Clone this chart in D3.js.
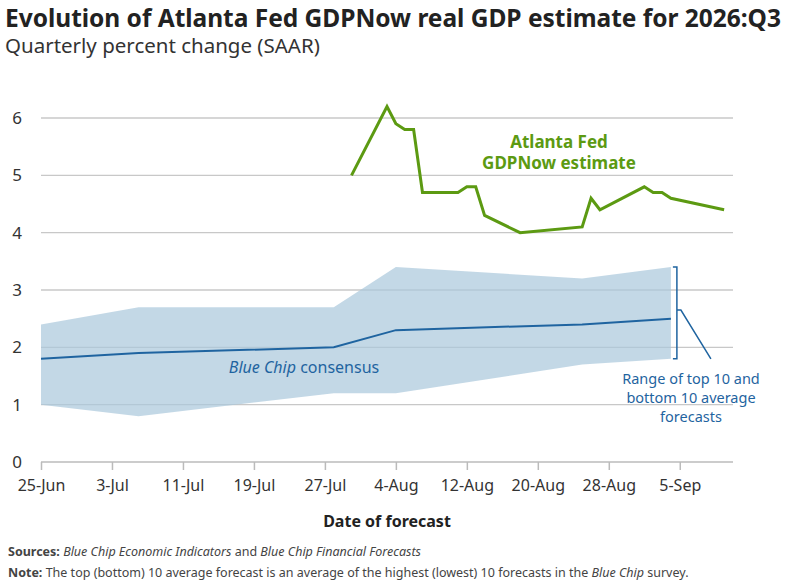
<!DOCTYPE html>
<html><head><meta charset="utf-8">
<script src="https://cdn.jsdelivr.net/npm/d3@7"></script>
<style>body{margin:0;background:#fff;font-family:"Noto Sans",sans-serif}</style>
</head><body>
<div class="canvas"></div>
<script>
// blue chip consensus and top/bottom 10 range
const bandDates = ['2026-06-25','2026-07-06','2026-07-28','2026-08-04','2026-08-25','2026-09-04'];
const bandTop = [2.4, 2.7, 2.7, 3.4, 3.2, 3.4];
const bandBottom = [1.0, 0.8, 1.2, 1.2, 1.7, 1.8];
const consensus = [1.8, 1.9, 2.0, 2.3, 2.4, 2.5];
// gdpnow estimates
const nowDates = ['2026-07-30','2026-08-03','2026-08-04','2026-08-05','2026-08-06','2026-08-07','2026-08-11','2026-08-12','2026-08-13','2026-08-14','2026-08-18','2026-08-25','2026-08-26','2026-08-27','2026-09-01','2026-09-02','2026-09-03','2026-09-04','2026-09-10'];
const nowValues = [5.0, 6.2, 5.9, 5.8, 5.8, 4.7, 4.7, 4.8, 4.8, 4.3, 4.0, 4.1, 4.6, 4.4, 4.8, 4.7, 4.7, 4.6, 4.4];
const tickLabels = ['25-Jun','3-Jul','11-Jul','19-Jul','27-Jul','4-Aug','12-Aug','20-Aug','28-Aug','5-Sep'];
const yTicks = [0,1,2,3,4,5,6];

const parse = d3.timeParse('%Y-%m-%d');
const W = 787, H = 586;
const svg = d3.select('.canvas').append('svg').attr('width', W).attr('height', H);

const x = d3.scaleTime().domain([parse('2026-06-25'), parse('2026-09-11')]).range([41, 733]);
const y = d3.scaleLinear().domain([0, 6]).range([462, 118]);
const tickDates = tickLabels.map((t, i) => d3.timeDay.offset(parse('2026-06-25'), i * 8));

svg.append('text').attr('x', 5).attr('y', 27).attr('font-size', 24.5).attr('font-weight', 700)
  .attr('fill', '#222').attr('textLength', 776).text('Evolution of Atlanta Fed GDPNow real GDP estimate for 2026:Q3');
svg.append('text').attr('x', 5).attr('y', 53).attr('font-size', 20.5).attr('fill', '#333')
  .text('Quarterly percent change (SAAR)');

// grid
svg.selectAll('.grid').data(yTicks.filter(d => d > 0)).enter().append('line')
  .attr('x1', 41).attr('x2', 733).attr('y1', d => y(d)).attr('y2', d => y(d))
  .attr('stroke', '#c8c8c8').attr('stroke-width', 1.3);

const band = bandDates.map((d, i) => ({date: parse(d), top: bandTop[i], bot: bandBottom[i], c: consensus[i]}));
svg.append('path').datum(band)
  .attr('d', d3.area().x(d => x(d.date)).y0(d => y(d.bot)).y1(d => y(d.top)))
  .attr('fill', '#a9c8dc').attr('opacity', 0.7);
svg.append('path').datum(band)
  .attr('d', d3.line().x(d => x(d.date)).y(d => y(d.c)))
  .attr('fill', 'none').attr('stroke', '#1f64a0').attr('stroke-width', 2);

const now = nowDates.map((d, i) => ({date: parse(d), v: nowValues[i]}));
svg.append('path').datum(now)
  .attr('d', d3.line().x(d => x(d.date)).y(d => y(d.v)))
  .attr('fill', 'none').attr('stroke', '#5c9a12').attr('stroke-width', 3);

// axes
const yAxis = svg.append('g').attr('transform', 'translate(25,0)')
  .call(d3.axisLeft(y).tickValues(yTicks).tickSize(0).tickFormat(d3.format('d')));
yAxis.select('.domain').remove();
yAxis.selectAll('text').attr('font-size', 17).attr('fill', '#333').attr('font-family', 'Noto Sans');

const xAxis = svg.append('g').attr('transform', `translate(0,${y(0)})`)
  .call(d3.axisBottom(x).tickValues(tickDates).tickSize(8).tickFormat((d, i) => tickLabels[i]));
xAxis.select('.domain').attr('d', `M41,0H733`).attr('stroke', '#bbb').attr('stroke-width', 1.5);
xAxis.selectAll('line').attr('stroke', '#bbb').attr('stroke-width', 1.5);
xAxis.selectAll('text').attr('font-size', 16).attr('fill', '#333').attr('dy', '1.1em').attr('font-family', 'Noto Sans');

svg.append('text').attr('x', 387).attr('y', 527).attr('text-anchor', 'middle')
  .attr('font-size', 16).attr('font-weight', 700).attr('fill', '#222').text('Date of forecast');

// labels
const g = svg.append('text').attr('x', 559).attr('y', 148).attr('text-anchor', 'middle')
  .attr('font-size', 17).attr('font-weight', 700).attr('fill', '#5c9a12');
g.append('tspan').attr('x', 559).text('Atlanta Fed');
g.append('tspan').attr('x', 559).attr('dy', 21).text('GDPNow estimate');

const bc = svg.append('text').attr('x', 304).attr('y', 373).attr('text-anchor', 'middle')
  .attr('font-size', 16).attr('fill', '#1f64a0');
bc.append('tspan').attr('font-style', 'italic').text('Blue Chip');
bc.append('tspan').text(' consensus');

// bracket
const bx = x(parse('2026-09-04')) + 6;
svg.append('path').attr('d', `M${bx - 4},${y(3.4)}H${bx}V${y(1.8)}H${bx - 4}M${bx},${y(2.65)}H${bx + 4}L${bx + 34},${y(1.8)}`)
  .attr('fill', 'none').attr('stroke', '#1f64a0').attr('stroke-width', 1.5);
const rt = svg.append('text').attr('text-anchor', 'middle').attr('font-size', 14.5).attr('fill', '#1f64a0');
['Range of top 10 and', 'bottom 10 average', 'forecasts'].forEach((t, i) =>
  rt.append('tspan').attr('x', 691).attr('y', 384 + i * 19).text(t));

// footnotes
const s = svg.append('text').attr('x', 8).attr('y', 556).attr('font-size', 12.5).attr('fill', '#444');
s.append('tspan').attr('font-weight', 700).text('Sources: ');
s.append('tspan').attr('font-style', 'italic').text('Blue Chip Economic Indicators');
s.append('tspan').text(' and ');
s.append('tspan').attr('font-style', 'italic').text('Blue Chip Financial Forecasts');
const n = svg.append('text').attr('x', 8).attr('y', 577).attr('font-size', 12.5).attr('fill', '#444');
n.append('tspan').attr('font-weight', 700).text('Note: ');
n.append('tspan').text('The top (bottom) 10 average forecast is an average of the highest (lowest) 10 forecasts in the ');
n.append('tspan').attr('font-style', 'italic').text('Blue Chip');
n.append('tspan').text(' survey.');
</script>
</body></html>
